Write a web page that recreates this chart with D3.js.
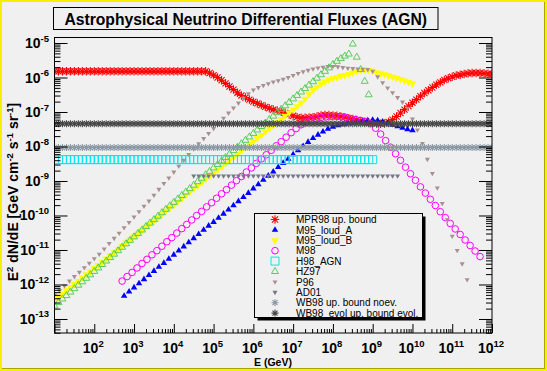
<!DOCTYPE html>
<html><head><meta charset="utf-8">
<script src="https://cdn.jsdelivr.net/npm/d3@7"></script>
<style>body{margin:0;background:#f0f0f0;}svg{display:block;font-family:"Liberation Sans",Arial,Helvetica,sans-serif;}</style>
</head><body><svg id="c" width="547" height="371"></svg>
<script>
// ---------------- DATA ----------------
const titleText = "Astrophysical Neutrino Differential Fluxes (AGN)";
const xTickExp = [2,3,4,5,6,7,8,9,10,11,12];
const yTickExp = [-5,-6,-7,-8,-9,-10,-11,-12,-13];
const legendLabels = ["MPR98 up. bound","M95_loud_A","M95_loud_B","M98","H98_AGN","HZ97","P96","AD01","WB98 up. bound noev.","WB98_evol up. bound evol."];

// each series: log10(E/GeV) of first point, log10 step between points, log10 of E^2 dN/dE values
const MPR98_e0 = 1.0, MPR98_step = 0.1;
const MPR98_logF = [-5.82,-5.82,-5.82,-5.82,-5.82,-5.82,-5.82,-5.82,-5.82,-5.82,
-5.82,-5.82,-5.82,-5.82,-5.82,-5.82,-5.82,-5.82,-5.82,-5.82,
-5.82,-5.82,-5.82,-5.82,-5.82,-5.82,-5.82,-5.82,-5.82,-5.82,
-5.82,-5.82,-5.82,-5.82,-5.82,-5.82,-5.82,-5.82,-5.82,
-5.87,-5.93,-6.00,-6.08,-6.17,-6.26,-6.35,-6.44,-6.52,-6.58,
-6.64,-6.70,-6.75,-6.80,-6.85,-6.89,-6.93,-6.96,-6.99,-7.03,
-7.07,-7.11,-7.15,-7.17,-7.17,-7.16,-7.15,-7.13,-7.10,-7.09,
-7.09,-7.10,-7.11,-7.13,-7.15,-7.18,-7.20,-7.23,-7.26,-7.28,
-7.30,-7.32,-7.33,-7.34,-7.33,-7.29,-7.22,-7.13,-7.03,-6.93,
-6.83,-6.73,-6.64,-6.54,-6.45,-6.37,-6.29,-6.21,-6.14,-6.07,
-6.02,-5.98,-5.94,-5.92,-5.90,-5.88,-5.87,-5.87,-5.87,-5.88,
-5.89,-5.90];

const M95A_e0 = 2.75, M95A_step = 0.125;
const M95A_logF = [-12.33,-12.21,-12.09,-11.97,-11.85,-11.73,-11.61,-11.49,-11.38,-11.26,
-11.14,-11.02,-10.90,-10.78,-10.66,-10.54,-10.42,-10.30,-10.19,-10.07,
-9.95,-9.83,-9.71,-9.59,-9.47,-9.35,-9.22,-9.10,-8.97,-8.85,
-8.73,-8.60,-8.48,-8.36,-8.23,-8.11,-7.99,-7.87,-7.76,-7.66,
-7.57,-7.49,-7.43,-7.39,-7.36,-7.33,-7.31,-7.29,-7.27,-7.25,
-7.23,-7.25,-7.28,-7.32,-7.37,-7.42,-7.46,-7.50,-7.53];

const M95B_e0 = 1.0, M95B_step = 0.1;
const M95B_logF = [-12.45,-12.36,-12.27,-12.17,-12.08,-11.99,-11.90,-11.81,-11.71,-11.62,
-11.53,-11.44,-11.35,-11.25,-11.16,-11.07,-10.98,-10.89,-10.79,-10.70,
-10.61,-10.52,-10.43,-10.33,-10.24,-10.15,-10.06,-9.97,-9.87,-9.78,
-9.69,-9.60,-9.51,-9.41,-9.32,-9.23,-9.14,-9.05,-8.95,-8.86,
-8.77,-8.68,-8.59,-8.49,-8.40,-8.31,-8.22,-8.13,-8.03,-7.94,
-7.85,-7.76,-7.67,-7.57,-7.48,-7.39,-7.30,-7.21,-7.11,-7.02,
-6.93,-6.84,-6.74,-6.62,-6.49,-6.37,-6.27,-6.19,-6.12,-6.07,
-6.03,-6.00,-5.96,-5.93,-5.90,-5.86,-5.82,-5.79,-5.77,-5.78,
-5.81,-5.85,-5.88,-5.91,-5.94,-5.98,-6.01,-6.05,-6.09,-6.13,
-6.17];

const M98_e0 = 2.7, M98_step = 0.125;
const M98_logF = [-11.90,-11.77,-11.65,-11.52,-11.39,-11.27,-11.14,-11.02,-10.89,-10.76,
-10.64,-10.51,-10.38,-10.26,-10.13,-10.00,-9.88,-9.75,-9.63,-9.50,
-9.37,-9.25,-9.12,-8.99,-8.87,-8.74,-8.62,-8.49,-8.36,-8.24,
-8.11,-7.98,-7.86,-7.73,-7.60,-7.48,-7.37,-7.29,-7.23,-7.19,
-7.16,-7.14,-7.13,-7.13,-7.14,-7.16,-7.19,-7.22,-7.25,-7.28,
-7.34,-7.47,-7.64,-7.83,-8.02,-8.21,-8.40,-8.60,-8.79,-8.98,
-9.17,-9.35,-9.53,-9.71,-9.89,-10.06,-10.23,-10.39,-10.55,-10.71,
-10.87,-11.03,-11.19];

const H98_e0 = 1.0, H98_step = 0.1;
const H98_logF = [-8.38,-8.38,-8.38,-8.38,-8.38,-8.38,-8.38,-8.38,-8.38,-8.38,
-8.38,-8.38,-8.38,-8.38,-8.38,-8.38,-8.38,-8.38,-8.38,-8.38,
-8.38,-8.38,-8.38,-8.38,-8.38,-8.38,-8.38,-8.38,-8.38,-8.38,
-8.38,-8.38,-8.38,-8.38,-8.38,-8.38,-8.38,-8.38,-8.38,-8.38,
-8.38,-8.38,-8.38,-8.38,-8.38,-8.38,-8.38,-8.38,-8.38,-8.38,
-8.38,-8.38,-8.38,-8.38,-8.38,-8.38,-8.38,-8.38,-8.38,-8.38,
-8.38,-8.38,-8.38,-8.38,-8.38,-8.38,-8.38,-8.38,-8.38,-8.38,
-8.38,-8.38,-8.38,-8.38,-8.38,-8.38,-8.38,-8.38,-8.38,-8.38,
-8.38];

const HZ97_e0 = 1.0, HZ97_step = 0.1;
const HZ97_logF = [-12.62,-12.52,-12.42,-12.32,-12.22,-12.12,-12.02,-11.92,-11.82,-11.72,
-11.62,-11.52,-11.42,-11.32,-11.22,-11.12,-11.02,-10.92,-10.82,-10.72,
-10.62,-10.52,-10.42,-10.32,-10.22,-10.12,-10.02,-9.92,-9.82,-9.72,
-9.62,-9.52,-9.42,-9.32,-9.22,-9.12,-9.02,-8.92,-8.82,-8.72,
-8.62,-8.52,-8.42,-8.32,-8.22,-8.12,-8.02,-7.92,-7.82,-7.72,
-7.62,-7.52,-7.42,-7.32,-7.22,-7.12,-7.02,-6.92,-6.82,-6.72,
-6.62,-6.52,-6.42,-6.32,-6.22,-6.12,-6.02,-5.92,-5.82,-5.72,
-5.62,-5.53,-5.45,-5.38,-5.32,-5.03,-5.41,-5.77,-6.11,-6.50];

const P96_e0 = 1.0, P96_step = 0.125;
const P96_logF = [-12.30,-12.17,-12.04,-11.90,-11.77,-11.64,-11.51,-11.38,-11.25,-11.12,
-10.97,-10.81,-10.66,-10.51,-10.35,-10.20,-10.04,-9.89,-9.73,-9.58,
-9.41,-9.24,-9.07,-8.91,-8.74,-8.57,-8.40,-8.23,-8.07,-7.92,
-7.77,-7.62,-7.48,-7.33,-7.18,-7.03,-6.88,-6.74,-6.60,-6.47,
-6.36,-6.29,-6.23,-6.18,-6.13,-6.09,-6.05,-6.00,-5.94,-5.88,
-5.83,-5.79,-5.75,-5.72,-5.70,-5.68,-5.68,-5.69,-5.71,-5.73,
-5.74,-5.75,-5.76,-5.77,-5.82,-5.98,-6.15,-6.30,-6.44,-6.58,
-6.71,-6.89,-7.20,-7.52,-7.91,-8.37,-8.78,-9.20,-9.65,-10.12,
-10.60,-11.01,-11.40,-11.86];

const AD01_e0 = 4.5, AD01_step = 0.125;
const AD01_logF = [-8.85,-8.85,-8.85,-8.85,-8.85,-8.85,-8.85,-8.85,-8.85,-8.85,
-8.85,-8.85,-8.85,-8.85,-8.85,-8.85,-8.85,-8.85,-8.85,-8.85,
-8.85,-8.85,-8.85,-8.85,-8.85,-8.85,-8.85,-8.85,-8.85,-8.85,
-8.85,-8.85,-8.85,-8.85,-8.85,-8.85,-8.85,-8.85,-8.85,-8.85,
-8.85,-8.85];

const WB98_e0 = 1.0, WB98_step = 0.1;
const WB98_logF = [-8.03,-8.03,-8.03,-8.03,-8.03,-8.03,-8.03,-8.03,-8.03,-8.03,
-8.03,-8.03,-8.03,-8.03,-8.03,-8.03,-8.03,-8.03,-8.03,-8.03,
-8.03,-8.03,-8.03,-8.03,-8.03,-8.03,-8.03,-8.03,-8.03,-8.03,
-8.03,-8.03,-8.03,-8.03,-8.03,-8.03,-8.03,-8.03,-8.03,-8.03,
-8.03,-8.03,-8.03,-8.03,-8.03,-8.03,-8.03,-8.03,-8.03,-8.03,
-8.03,-8.03,-8.03,-8.03,-8.03,-8.03,-8.03,-8.03,-8.03,-8.03,
-8.03,-8.03,-8.03,-8.03,-8.03,-8.03,-8.03,-8.03,-8.03,-8.03,
-8.03,-8.03,-8.03,-8.03,-8.03,-8.03,-8.03,-8.03,-8.03,-8.03,
-8.03,-8.03,-8.03,-8.03,-8.03,-8.03,-8.03,-8.03,-8.03,-8.03,
-8.03,-8.03,-8.03,-8.03,-8.03,-8.03,-8.03,-8.03,-8.03,-8.03,
-8.03,-8.03,-8.03,-8.03,-8.03,-8.03,-8.03,-8.03,-8.03,-8.03,
-8.03];

const WB98evol_e0 = 1.0, WB98evol_step = 0.1;
const WB98evol_logF = [-7.34,-7.34,-7.34,-7.34,-7.34,-7.34,-7.34,-7.34,-7.34,-7.34,
-7.34,-7.34,-7.34,-7.34,-7.34,-7.34,-7.34,-7.34,-7.34,-7.34,
-7.34,-7.34,-7.34,-7.34,-7.34,-7.34,-7.34,-7.34,-7.34,-7.34,
-7.34,-7.34,-7.34,-7.34,-7.34,-7.34,-7.34,-7.34,-7.34,-7.34,
-7.34,-7.34,-7.34,-7.34,-7.34,-7.34,-7.34,-7.34,-7.34,-7.34,
-7.34,-7.34,-7.34,-7.34,-7.34,-7.34,-7.34,-7.34,-7.34,-7.34,
-7.34,-7.34,-7.34,-7.34,-7.34,-7.34,-7.34,-7.34,-7.34,-7.34,
-7.34,-7.34,-7.34,-7.34,-7.34,-7.34,-7.34,-7.34,-7.34,-7.34,
-7.34,-7.34,-7.34,-7.34,-7.34,-7.34,-7.34,-7.34,-7.34,-7.34,
-7.34,-7.34,-7.34,-7.34,-7.34,-7.34,-7.34,-7.34,-7.34,-7.34,
-7.34,-7.34,-7.34,-7.34,-7.34,-7.34,-7.34,-7.34,-7.34,-7.34,
-7.34];

// ---------------- STYLE TABLE ----------------
const series = [
 {e0:MPR98_e0, step:MPR98_step, v:MPR98_logF, m:"star", c:"#ff0000", s:8.5},
 {e0:M95A_e0, step:M95A_step, v:M95A_logF, m:"triUp", c:"#0000ff", s:6.5},
 {e0:M95B_e0, step:M95B_step, v:M95B_logF, m:"triDown", c:"#ffff00", s:7.5},
 {e0:M98_e0, step:M98_step, v:M98_logF, m:"circle", c:"#ff00ff", s:6.6},
 {e0:H98_e0, step:H98_step, v:H98_logF, m:"square", c:"#00e8f0", s:8},
 {e0:HZ97_e0, step:HZ97_step, v:HZ97_logF, m:"triUpOpen", c:"#5ccd5c", s:7},
 {e0:P96_e0, step:P96_step, v:P96_logF, m:"triDown", c:"#a89090", s:5},
 {e0:AD01_e0, step:AD01_step, v:AD01_logF, m:"triDown", c:"#75778a", s:5},
 {e0:WB98_e0, step:WB98_step, v:WB98_logF, m:"star", c:"#8a98a4", s:7},
 {e0:WB98evol_e0, step:WB98evol_step, v:WB98evol_logF, m:"star", c:"#474747", s:7}
];

// ---------------- DRAW ----------------
const W = 547, H = 371;
const svg = d3.select("#c");
svg.append("rect").attr("width", W).attr("height", H).attr("fill", "#f2f200");
svg.append("rect").attr("x", 2).attr("y", 2).attr("width", W-4).attr("height", H-4).attr("fill", "#a6a600");
svg.append("rect").attr("x", 2).attr("y", 2).attr("width", W-5).attr("height", H-5).attr("fill", "#f0f0f0");

const X0 = 54.5, X1 = 492, Y0 = 37, Y1 = 333;
const x = d3.scaleLog().domain([1e1, 1e12]).range([X0, X1]);
const y = d3.scaleLog().domain([Math.pow(10, -13.406), Math.pow(10, -4.826)]).range([Y1, Y0]);

svg.append("clipPath").attr("id", "clip").append("rect")
  .attr("x", X0).attr("y", Y0).attr("width", X1 - X0).attr("height", Y1 - Y0);

function markerPath(type, s) {
  const h = s / 2;
  if (type === "star") {
    const d = h * 0.72;
    return `M${-h},0H${h}M0,${-h}V${h}M${-d},${-d}L${d},${d}M${-d},${d}L${d},${-d}`;
  }
  if (type === "triUp" || type === "triUpOpen") {
    return `M0,${-s*0.577}L${h},${s*0.289}L${-h},${s*0.289}Z`;
  }
  if (type === "triDown") {
    return `M0,${s*0.577}L${h},${-s*0.289}L${-h},${-s*0.289}Z`;
  }
  if (type === "square") {
    return `M${-h},${-h}H${h}V${h}H${-h}Z`;
  }
  return null;
}
function drawMarker(g, type, s, c, cx, cy) {
  if (type === "circle") {
    g.append("circle").attr("cx", cx).attr("cy", cy).attr("r", s / 2)
      .attr("fill", "none").attr("stroke", c).attr("stroke-width", 1);
    return;
  }
  const p = g.append("path").attr("d", markerPath(type, s)).attr("transform", `translate(${cx},${cy})`);
  if (type === "star") p.attr("fill", "none").attr("stroke", c).attr("stroke-width", 1.1);
  else if (type === "square" || type === "triUpOpen") p.attr("fill", "none").attr("stroke", c).attr("stroke-width", 1);
  else p.attr("fill", c).attr("stroke", "none");
}

const plot = svg.append("g").attr("clip-path", "url(#clip)");
series.forEach(sr => {
  const g = plot.append("g");
  sr.v.forEach((lf, i) => {
    const E = Math.pow(10, sr.e0 + i * sr.step);
    const F = Math.pow(10, lf);
    drawMarker(g, sr.m, sr.s, sr.c, x(E), y(F));
  });
});

// axes ticks
const xMaj = d3.range(1, 13).map(k => Math.pow(10, k));
const xMin = [];
for (let k = 1; k < 12; k++) for (let m = 2; m <= 9; m++) xMin.push(m * Math.pow(10, k));
const yMaj = d3.range(-13, -4).map(k => Math.pow(10, k));
const yMin = [];
for (let k = -14; k < -4; k++) for (let m = 2; m <= 9; m++) {
  const v = m * Math.pow(10, k);
  if (v > y.domain()[0] && v < y.domain()[1]) yMin.push(v);
}
function clean(g) { g.select(".domain").remove(); g.selectAll("line").attr("stroke", "#000"); }
svg.append("g").attr("transform", `translate(0,${Y1})`)
  .call(d3.axisBottom(x).tickValues(xMaj).tickSize(-9).tickFormat("")).call(clean);
svg.append("g").attr("transform", `translate(0,${Y1})`)
  .call(d3.axisBottom(x).tickValues(xMin).tickSize(-4).tickFormat("")).call(clean);
svg.append("g").attr("transform", `translate(${X0},0)`)
  .call(d3.axisLeft(y).tickValues(yMaj).tickSize(-13).tickFormat("")).call(clean);
svg.append("g").attr("transform", `translate(${X0},0)`)
  .call(d3.axisLeft(y).tickValues(yMin).tickSize(-6).tickFormat("")).call(clean);
svg.append("g").attr("transform", `translate(${X1},0)`)
  .call(d3.axisRight(y).tickValues(yMaj).tickSize(-13).tickFormat("")).call(clean);
svg.append("g").attr("transform", `translate(${X1},0)`)
  .call(d3.axisRight(y).tickValues(yMin).tickSize(-6).tickFormat("")).call(clean);

// frame
svg.append("rect").attr("x", X0).attr("y", Y0 + 0.5).attr("width", X1 - X0).attr("height", Y1 - Y0 - 0.5)
  .attr("fill", "none").attr("stroke", "#000").attr("stroke-width", 1);

// tick labels
xTickExp.forEach(e => {
  const t = svg.append("text").attr("x", x(Math.pow(10, e)) - 1).attr("y", 353)
    .attr("text-anchor", "middle").attr("font-weight", "bold").attr("font-size", 14);
  t.append("tspan").text("10");
  t.append("tspan").attr("dy", -6.5).attr("font-size", 9.5).text(String(e));
});
yTickExp.forEach(e => {
  const t = svg.append("text").attr("x", 49).attr("y", y(Math.pow(10, e)) + 5)
    .attr("text-anchor", "end").attr("font-weight", "bold").attr("font-size", 14);
  t.append("tspan").text("10");
  t.append("tspan").attr("dy", -6.5).attr("font-size", 9.5).text(String(e));
});

// axis titles
svg.append("text").attr("x", 273).attr("y", 366).attr("text-anchor", "middle")
  .attr("font-weight", "bold").attr("font-size", 10.5).text("E (GeV)");
const yt = svg.append("text").attr("transform", "translate(18,192) rotate(-90)")
  .attr("text-anchor", "middle").attr("font-weight", "bold").attr("font-size", 14);
yt.append("tspan").text("E");
yt.append("tspan").attr("dy", -5.5).attr("font-size", 9.5).text("2");
yt.append("tspan").attr("dy", 5.5).text(" dN/dE [GeV cm");
yt.append("tspan").attr("dy", -5.5).attr("font-size", 9.5).text("-2");
yt.append("tspan").attr("dy", 5.5).text(" s");
yt.append("tspan").attr("dy", -5.5).attr("font-size", 9.5).text("-1");
yt.append("tspan").attr("dy", 5.5).text(" sr");
yt.append("tspan").attr("dy", -5.5).attr("font-size", 9.5).text("-1");
yt.append("tspan").attr("dy", 5.5).text("]");

// title box
svg.append("rect").attr("x", 53.5).attr("y", 7.5).attr("width", 384.5).attr("height", 22)
  .attr("fill", "#f0f0f0").attr("stroke", "#000");
svg.append("text").attr("x", 245.7).attr("y", 25).attr("text-anchor", "middle")
  .attr("font-weight", "bold").attr("font-size", 15.7).text(titleText);

// legend
const LX = 254.5, LY = 213.5, LW = 168, LH = 104;
svg.append("rect").attr("x", LX + 3).attr("y", LY + 3).attr("width", LW).attr("height", LH).attr("fill", "#000");
svg.append("rect").attr("x", LX).attr("y", LY).attr("width", LW).attr("height", LH)
  .attr("fill", "#f0f0f0").attr("stroke", "#000");
const lg = svg.append("g");
legendLabels.forEach((lab, i) => {
  const cy = 219.5 + i * 10.4;
  const sr = series[i];
  drawMarker(lg, sr.m, sr.s, sr.c, 275, cy);
  lg.append("text").attr("x", 296).attr("y", cy + 3.7).attr("font-size", 10).attr("fill", "#000").text(lab);
});
</script></body></html>
